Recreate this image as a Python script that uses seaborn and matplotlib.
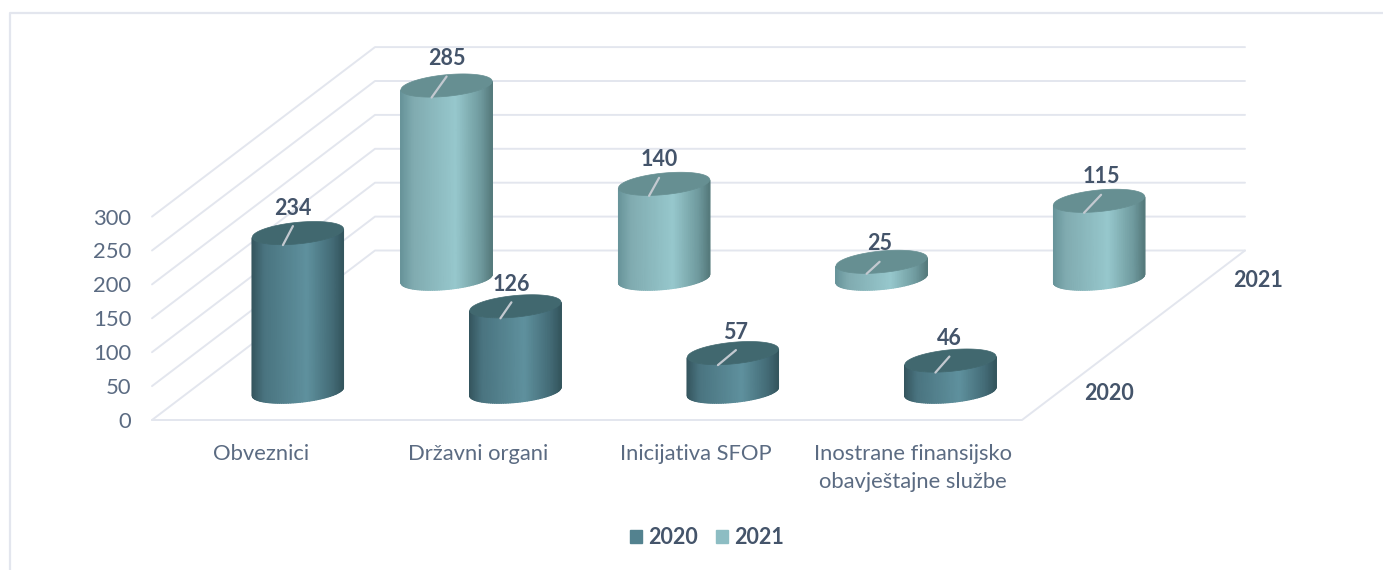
import numpy as np
import seaborn as sns
import matplotlib.pyplot as plt
from matplotlib.colors import LinearSegmentedColormap
from matplotlib.patches import Patch, Polygon

categories = ["Obveznici", "Državni organi", "Inicijativa SFOP", "Inostrane finansijsko\nobavještajne službe"]
values_2020 = [234, 126, 57, 46]
values_2021 = [285, 140, 25, 115]
y_ticks = [0, 50, 100, 150, 200, 250, 300]

sns.set_theme(style="white")
plt.rcParams["font.family"] = ["Lato", "DejaVu Sans"]

W, H = 1383, 570
GRID = "#e3e6ee"
TEXT = "#5b6b82"
BOLD = "#44546a"

# oblique projection of the chart box, all in pixels
FLOOR_X, FLOOR_Y = 152, 420
FLOOR_W = 870
DEPTH_X, DEPTH_Y = 223, 169.5
PX_PER_UNIT = 0.678
YMAX = 300

# cylinder shape, pixels
CAP_B = 10.8
CAP_S = 4.2

fig = plt.figure(figsize=(W / 100, H / 100), dpi=100)

# ----------------------------
# background: frame and walls
# ----------------------------
canvas = fig.add_axes([0, 0, 1, 1])
canvas.set_xlim(0, W)
canvas.set_ylim(H, 0)
canvas.axis("off")
canvas.plot([10, 10, W], [H, 13, 13], color=GRID, lw=1.6)
for v in y_ticks:
    yy = FLOOR_Y - v * PX_PER_UNIT
    canvas.plot([FLOOR_X, FLOOR_X + DEPTH_X, FLOOR_X + DEPTH_X + FLOOR_W],
                [yy, yy - DEPTH_Y, yy - DEPTH_Y], color=GRID, lw=1.4)
canvas.plot([FLOOR_X, FLOOR_X + FLOOR_W, FLOOR_X + FLOOR_W + DEPTH_X],
            [FLOOR_Y, FLOOR_Y, FLOOR_Y - DEPTH_Y], color=GRID, lw=1.4)


def make_axes(depth):
    left = FLOOR_X + depth * DEPTH_X
    bottom = FLOOR_Y - depth * DEPTH_Y
    ax = fig.add_axes([left / W, (H - bottom) / H, FLOOR_W / W, YMAX * PX_PER_UNIT / H])
    ax.patch.set_alpha(0)
    sns.despine(ax=ax, left=True, bottom=True, right=True, top=True)
    return ax


def draw_series(ax, values, name, colors, cap_color, label_dx, label_dy):
    positions = np.arange(len(categories))
    sns.barplot(x=positions, y=values, color=colors[2], saturation=1, width=91 / 217, native_scale=True, ax=ax)
    ax.set_xlim(-0.5, 3.5)
    ax.set_ylim(0, YMAX)
    ax.set_xticks([])
    ax.set_yticks([])
    ax.set_xlabel("")
    ax.set_ylabel("")
    cmap = LinearSegmentedColormap.from_list(name, list(zip([0, 0.13, 0.6, 0.88, 1], colors)))
    px_x = FLOOR_W / 4
    b = CAP_B / PX_PER_UNIT
    s = CAP_S / PX_PER_UNIT
    t = np.linspace(np.pi, 0, 61)
    for i, bar in enumerate(ax.patches[:len(values)]):
        bar.set_alpha(0)
        cx = bar.get_x() + bar.get_width() / 2
        a = bar.get_width() / 2
        v = bar.get_height()
        xs = cx + a * np.cos(t)
        lower = s * np.cos(t) - b * np.sin(t)
        upper = s * np.cos(t) + b * np.sin(t)
        X = np.vstack([xs, xs])
        Y = np.vstack([lower, v + lower])
        C = np.vstack([(xs - xs[0]) / (xs[-1] - xs[0])] * 2)
        ax.pcolormesh(X, Y, C, shading="gouraud", cmap=cmap, vmin=0, vmax=1, clip_on=False, zorder=3)
        cap = np.column_stack([np.r_[xs, xs[::-1]], v + np.r_[upper, lower[::-1]]])
        ax.add_patch(Polygon(cap, closed=True, fc=cap_color, ec=cap_color, lw=0.5, clip_on=False, zorder=4))
        # value label and its leader line
        dx, dy = label_dx[i], label_dy[i]
        ax.annotate(str(int(v)), (cx, v), xytext=(dx, dy), textcoords="offset pixels",
                    ha="center", va="center", fontsize=15.5, fontweight="bold", color=BOLD,
                    annotation_clip=False, zorder=6)
        ax.plot([cx + dx / px_x, cx - 15 / px_x], [v + (dy - 18) / PX_PER_UNIT, v - 12 / PX_PER_UNIT],
                color="#c3c9d0", lw=1.6, clip_on=False, zorder=5)
    ax.annotate(name, (3.5, 0), xytext=(50, -2), textcoords="offset pixels", ha="center", va="center",
                fontsize=15.5, fontweight="bold", color=BOLD, annotation_clip=False)


# ----------------------------
# axis labels on the front plane
# ----------------------------
ax_front = make_axes(0)
ax_front.set_xlim(-0.5, 3.5)
ax_front.set_ylim(0, YMAX)
ax_front.set_xticks(range(len(categories)), categories, linespacing=1.5)
ax_front.set_yticks(y_ticks)
ax_front.tick_params(axis="x", length=0, pad=17, labelsize=15.8, labelcolor=TEXT)
ax_front.tick_params(axis="y", length=0, pad=15, labelsize=15.8, labelcolor=TEXT)

# ----------------------------
# cylinders, back row first
# ----------------------------
ax_back = make_axes(5 / 6)
draw_series(ax_back, values_2021, "2021",
            ["#68949a", "#80abb0", "#97c8cd", "#6f9a9e", "#567b7d"], "#668f92",
            [0, -5, -2, 2], [27, 24, 18, 24])
ax_mid = make_axes(1 / 6)
draw_series(ax_mid, values_2020, "2020",
            ["#35565f", "#4a7480", "#5f919e", "#446c77", "#34565e"], "#41686f",
            [-5, -4, 3, -1], [25, 22, 21, 22])

handles = [Patch(color="#53828f", label="2020"), Patch(color="#8dbdc3", label="2021")]
leg = fig.legend(handles=handles, loc="center", bbox_to_anchor=(707 / W, 1 - 538 / H), ncol=2, frameon=False,
                 prop={"size": 15.5, "weight": "bold"}, labelcolor=BOLD, handlelength=0.56, handleheight=0.56,
                 handletextpad=0.28, columnspacing=0.84)

fig.savefig("out.png", dpi=100, facecolor="white")
